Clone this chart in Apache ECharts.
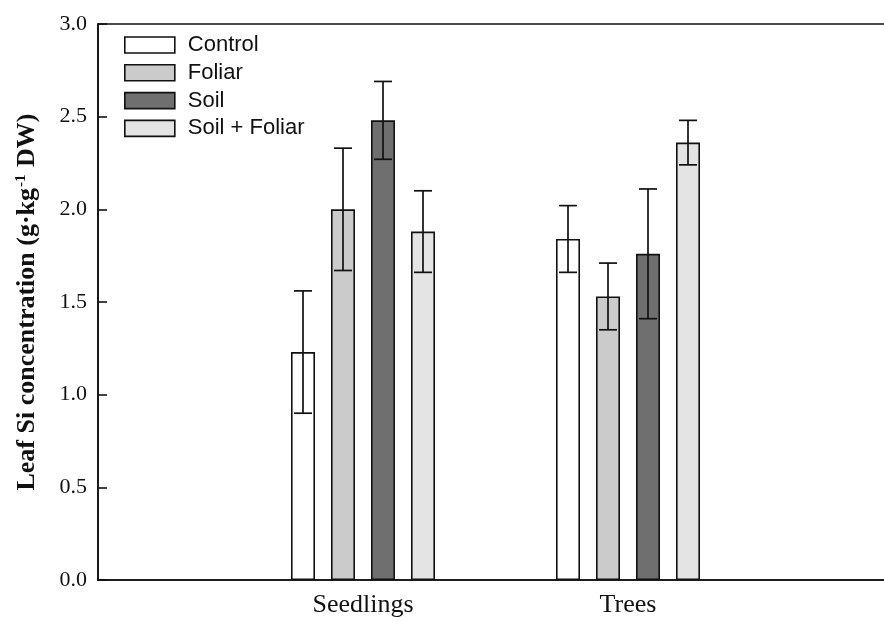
<!DOCTYPE html>
<html>
<head>
<meta charset="utf-8">
<script src="https://cdn.jsdelivr.net/npm/echarts@6/dist/echarts.min.js"></script>
<style>
html,body{margin:0;padding:0;background:#fff;}
#chart{width:884px;height:621px;}
</style>
</head>
<body>
<div id="chart"></div>
<script>
// ---- data ----
const categories = ['', 'Seedlings', 'Trees', ''];
const seriesNames = ['Control', 'Foliar', 'Soil', 'Soil + Foliar'];
const controlValues = [null, 1.23, 1.84, null];
const foliarValues = [null, 2.00, 1.53, null];
const soilValues = [null, 2.48, 1.76, null];
const soilFoliarValues = [null, 1.88, 2.36, null];
const controlErrors = [null, 0.33, 0.18, null];
const foliarErrors = [null, 0.33, 0.18, null];
const soilErrors = [null, 0.21, 0.35, null];
const soilFoliarErrors = [null, 0.22, 0.12, null];
const yTicks = [0, 0.5, 1.0, 1.5, 2.0, 2.5, 3.0];

// ---- styles ----
const colors = ['#ffffff', '#cbcbcb', '#6f6f6f', '#e4e4e4'];
const BAR_W = 24, BAR_GAP_PX = 16, CAP_W = 18;
const serif = "'Liberation Serif','Times New Roman',serif";
const sans = "'Liberation Sans',Arial,sans-serif";

const allValues = [controlValues, foliarValues, soilValues, soilFoliarValues];
const allErrors = [controlErrors, foliarErrors, soilErrors, soilFoliarErrors];

const errData = [];
allValues.forEach((vals, s) => {
  vals.forEach((v, c) => {
    if (v != null) errData.push([c, s, v - allErrors[s][c], v + allErrors[s][c]]);
  });
});

const barSeries = seriesNames.map((name, i) => ({
  name: name,
  type: 'bar',
  data: allValues[i],
  barWidth: BAR_W,
  barGap: (BAR_GAP_PX / BAR_W * 100) + '%',
  itemStyle: { color: colors[i], borderColor: '#111', borderWidth: 1.6 },
  z: 2
}));

const n = seriesNames.length;
const errSeries = {
  type: 'custom',
  z: 5,
  silent: true,
  data: errData,
  encode: { x: 0, y: [2, 3] },
  renderItem: function (params, api) {
    const c = api.value(0), s = api.value(1);
    const off = (s - (n - 1) / 2) * (BAR_W + BAR_GAP_PX);
    const lo = api.coord([c, api.value(2)]);
    const hi = api.coord([c, api.value(3)]);
    const x = lo[0] + off;
    const st = { stroke: '#111', lineWidth: 1.7 };
    return {
      type: 'group',
      children: [
        { type: 'line', shape: { x1: x, y1: lo[1], x2: x, y2: hi[1] }, style: st },
        { type: 'line', shape: { x1: x - CAP_W / 2, y1: lo[1], x2: x + CAP_W / 2, y2: lo[1] }, style: st },
        { type: 'line', shape: { x1: x - CAP_W / 2, y1: hi[1], x2: x + CAP_W / 2, y2: hi[1] }, style: st }
      ]
    };
  }
};

const chart = echarts.init(document.getElementById('chart'), null, { renderer: 'canvas' });
chart.setOption({
  animation: false,
  backgroundColor: '#fff',
  grid: {
    left: 98, top: 24, right: -9, bottom: 41,
    show: true, borderColor: '#111', borderWidth: 1.6, backgroundColor: 'transparent',
    containLabel: false,
    outerBoundsMode: 'none'
  },
  legend: {
    orient: 'vertical',
    left: 119, top: 29,
    padding: 5,
    itemWidth: 50, itemHeight: 16, itemGap: 5.8,
    data: seriesNames,
    icon: 'rect',
    itemStyle: { borderColor: '#111', borderWidth: 1.6 },
    textStyle: { fontFamily: sans, fontSize: 22, color: '#111', lineHeight: 22, padding: [0, 0, 0, 8] }
  },
  xAxis: {
    type: 'category',
    data: categories,
    boundaryGap: false,
    axisLine: { lineStyle: { color: '#111', width: 1.6 } },
    axisTick: { show: false },
    axisLabel: { fontFamily: serif, fontSize: 26, color: '#111', margin: 12, interval: 0 },
    splitLine: { show: false }
  },
  yAxis: {
    type: 'value',
    min: yTicks[0], max: yTicks[yTicks.length - 1], interval: yTicks[1] - yTicks[0],
    axisLine: { show: true, lineStyle: { color: '#111', width: 1.6 } },
    axisTick: { show: true, inside: true, length: 9, lineStyle: { color: '#111', width: 1.6 } },
    axisLabel: { fontFamily: serif, fontSize: 22, color: '#111', margin: 11, formatter: v => v.toFixed(1) },
    splitLine: { show: false },
    name: '{a|Leaf Si concentration (g·kg}{s|-1}{a| DW)}',
    nameLocation: 'middle',
    nameRotate: 90,
    nameGap: 58,
    nameTextStyle: {
      rich: {
        a: { fontFamily: serif, fontSize: 26, fontWeight: 'bold', color: '#111' },
        s: { fontFamily: serif, fontSize: 15, fontWeight: 'bold', color: '#111', verticalAlign: 'top', padding: [0, 1, 10, 1] }
      }
    }
  },
  series: barSeries.concat([errSeries])
});
</script>
</body>
</html>
